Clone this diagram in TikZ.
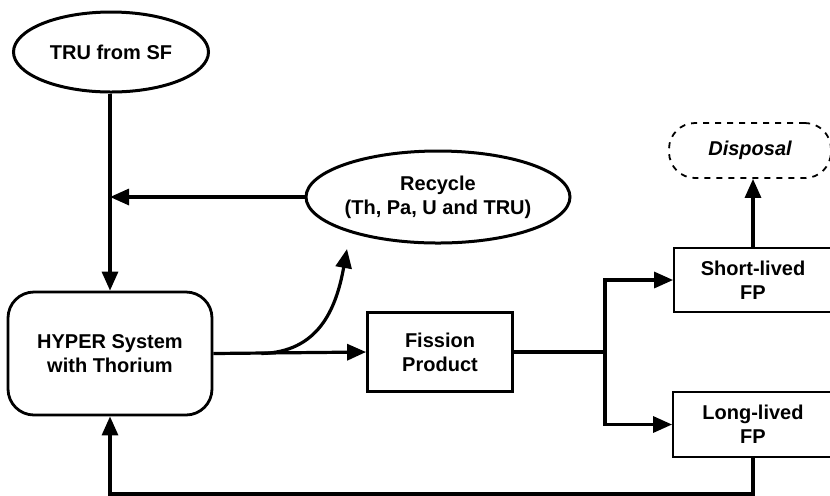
\documentclass[tikz,border=0pt]{standalone}
\usepackage{fontspec}
\setmainfont{Liberation Sans}
\usetikzlibrary{shapes.geometric,arrows.meta,calc}

\tikzset{
  oval/.style={ellipse, draw, line width=1.5pt, inner sep=0pt, align=center, font=\bfseries},
  unit/.style={rectangle, draw, line width=1.4pt, inner sep=0pt, align=center, font=\bfseries},
  flow/.style={line width=1.6pt, -{Triangle[length=9.5pt,width=8pt]}},
  pipe/.style={line width=1.6pt}
}

\begin{document}
\begin{tikzpicture}[x=0.5pt, y=-0.5pt]
    \useasboundingbox (0,0) rectangle (830,495);

    \node[oval, minimum width=97.5pt, minimum height=40pt] (tru) at (111,52) {TRU from SF};
    \node[oval, minimum width=131.5pt, minimum height=46pt] (recycle) at (438,197) {Recycle\\(Th, Pa, U and TRU)};
    \node[unit, rounded corners=13pt, minimum width=102pt, minimum height=61.5pt] (hyper) at (110,353.5) {HYPER System\\with Thorium};
    \node[unit, minimum width=72.5pt, minimum height=39.5pt] (fission) at (440,352) {Fission\\Product};
    \node[unit, line width=0.9pt, minimum width=79pt, minimum height=32pt] (short) at (753,280) {Short-lived\\FP};
    \node[unit, line width=0.9pt, minimum width=80pt, minimum height=32.5pt] (long) at (753,424.5) {Long-lived\\FP};
    \node[unit, dashed, line width=0.9pt, rounded corners=13pt, minimum width=81pt, minimum height=27.5pt,
          font=\bfseries\itshape] (disposal) at (750,150.5) {Disposal};

    \coordinate (split) at (605,352);
    \coordinate (back) at (347,249);

    \draw[flow] (tru.south -| hyper.north) -- (hyper.north);
    \draw[flow] (recycle.west) -- (recycle.west -| hyper.north);
    \draw[flow] (hyper.east) -- (fission.west);
    \draw[flow] ($(hyper.east)+(48,0)$) .. controls (318,352) and (336,310) .. (back);

    \draw[pipe] (fission.east) -- (split);
    \draw[flow] (split) |- (short.west);
    \draw[flow] (split) |- (long.west);
    \draw[flow] (short.north) -- (short.north |- disposal.south);

    % back to the core
    \draw[flow] (long.south) -- ++(0,36) -| (hyper.south);
\end{tikzpicture}
\end{document}
